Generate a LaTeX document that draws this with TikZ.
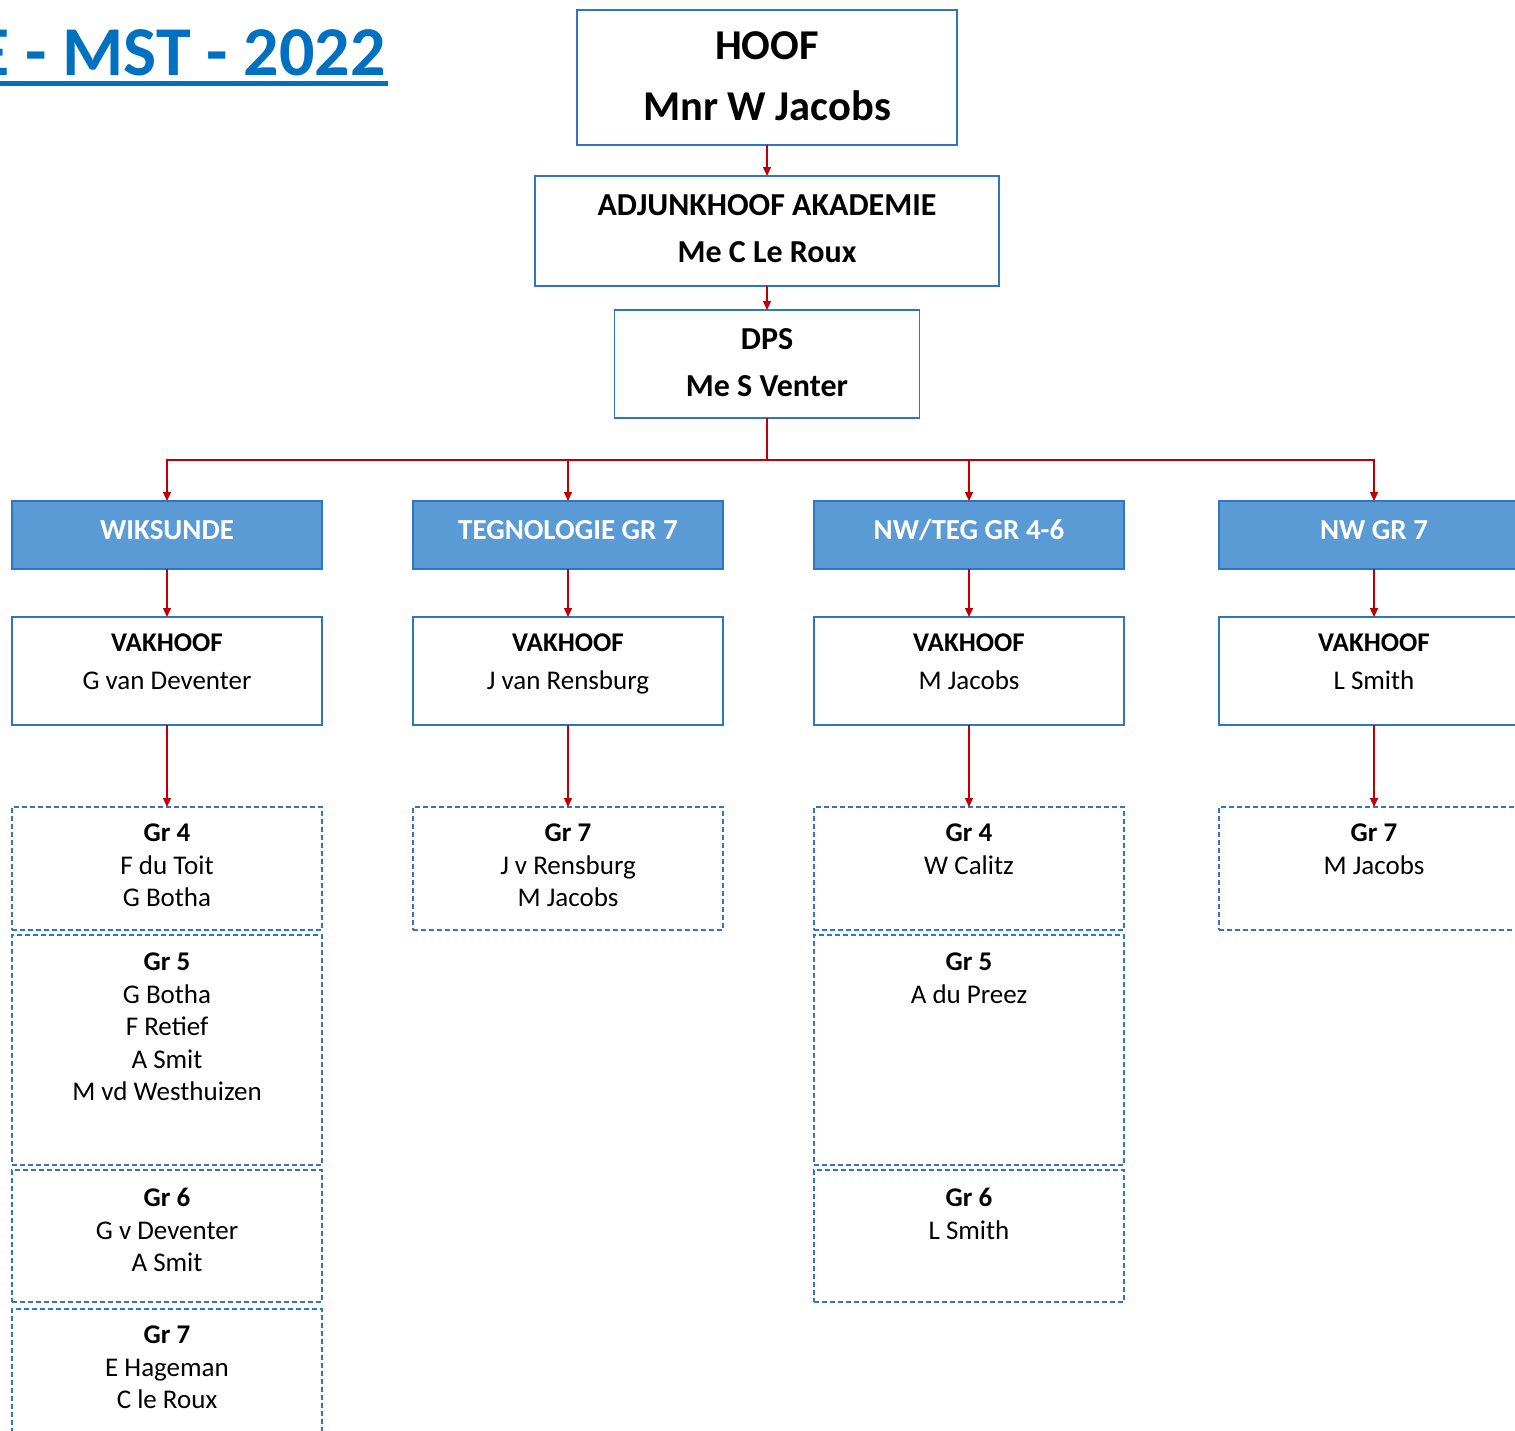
\documentclass[tikz,border=0pt]{standalone}
\usepackage{fontspec}
\setmainfont{Carlito}
\usetikzlibrary{arrows.meta}
\definecolor{bord}{RGB}{46,117,198}
\definecolor{fillb}{RGB}{91,155,213}
\definecolor{titleb}{RGB}{0,112,192}
\definecolor{connred}{RGB}{192,0,0}
\tikzset{
  solidbox/.style={draw=bord, line width=1.4pt, fill=white, inner sep=0pt, outer sep=0pt, rectangle},
  dashbox/.style={draw=bord, line width=1.3pt, dash pattern=on 5pt off 3pt, inner sep=0pt, outer sep=0pt, rectangle},
  headbox/.style={draw=bord, line width=1.4pt, fill=fillb, text=white, inner sep=0pt, outer sep=0pt, rectangle,
    font=\fontsize{29}{34}\selectfont\bfseries, text height=18.7pt, text depth=9pt,
    minimum width=310pt, minimum height=68pt},
  link/.style={draw=connred, line width=1.4pt, -{Triangle[length=9pt,width=8pt]}},
  bigtxt/.style={anchor=north, inner sep=0pt, align=center, font=\fontsize{42.5}{61}\selectfont\bfseries},
  midtxt/.style={anchor=north, inner sep=0pt, align=center, font=\fontsize{32}{47}\selectfont\bfseries},
  vaktxt/.style={anchor=north, inner sep=0pt, align=center, font=\fontsize{27}{38}\selectfont},
  grtxt/.style={anchor=north, inner sep=0pt, align=center, font=\fontsize{27}{32.5}\selectfont},
}
\begin{document}
\begin{tikzpicture}[x=1pt,y=-1pt]
\useasboundingbox (0,0) rectangle (1515,1430);

% title
\node[anchor=base east, inner sep=0pt, text=titleb, font=\fontsize{70}{84}\selectfont\bfseries] (title) at (386,75) {E - MST - 2022};
\draw[titleb, line width=4.5pt] (-20,83.5) -- (388,83.5);

% top hierarchy
\node[solidbox, minimum width=380pt, minimum height=135pt] (hoof) at (767,77.5) {};
\node[bigtxt] (hooft) at (767,17) {\strut HOOF\\Mnr W Jacobs};

\node[solidbox, minimum width=464pt, minimum height=110pt] (adj) at (767,231) {};
\node[midtxt] (adjt) at (767,182.4) {\strut ADJUNKHOOF AKADEMIE\\Me C Le Roux};

\node[solidbox, minimum width=305pt, minimum height=108pt] (dps) at (767,364) {};
\node[midtxt] (dpst) at (767,316.4) {\strut DPS\\Me S Venter};

% heads
\node[headbox] (h1) at (167,535) {WIKSUNDE};
\node[headbox] (h2) at (568,535) {TEGNOLOGIE GR 7};
\node[headbox] (h3) at (969,535) {NW/TEG GR 4-6};
\node[headbox] (h4) at (1374,535) {NW GR 7};

% vakhoof
\foreach \n/\x/\nm in {1/167/G van Deventer, 2/568/J van Rensburg, 3/969/M Jacobs, 4/1374/L Smith}{
  \node[solidbox, minimum width=310pt, minimum height=108pt] (v\n) at (\x,671) {};
  \node[vaktxt] (vt\n) at (\x,625.1) {\strut\textbf{VAKHOOF}\\\nm};
}

% grade boxes column 1
\node[dashbox, minimum width=310pt, minimum height=123pt] (g1a) at (167,868.5) {};
\node[grtxt] (g1at) at (167,818.95) {\strut\textbf{Gr 4}\\F du Toit\\G Botha};
\node[dashbox, minimum width=310pt, minimum height=230pt] (g1b) at (167,1050) {};
\node[grtxt] (g1bt) at (167,947.95) {\strut\textbf{Gr 5}\\G Botha\\F Retief\\A Smit\\M vd Westhuizen};
\node[dashbox, minimum width=310pt, minimum height=132pt] (g1c) at (167,1236) {};
\node[grtxt] (g1ct) at (167,1183.95) {\strut\textbf{Gr 6}\\G v Deventer\\A Smit};
\node[dashbox, minimum width=310pt, minimum height=141pt] (g1d) at (167,1379.5) {};
\node[grtxt] (g1dt) at (167,1320.95) {\strut\textbf{Gr 7}\\E Hageman\\C le Roux};

% column 2
\node[dashbox, minimum width=310pt, minimum height=123pt] (g2a) at (568,868.5) {};
\node[grtxt] (g2at) at (568,818.95) {\strut\textbf{Gr 7}\\J v Rensburg\\M Jacobs};

% column 3
\node[dashbox, minimum width=310pt, minimum height=123pt] (g3a) at (969,868.5) {};
\node[grtxt] (g3at) at (969,818.95) {\strut\textbf{Gr 4}\\W Calitz};
\node[dashbox, minimum width=310pt, minimum height=230pt] (g3b) at (969,1050) {};
\node[grtxt] (g3bt) at (969,947.95) {\strut\textbf{Gr 5}\\A du Preez};
\node[dashbox, minimum width=310pt, minimum height=132pt] (g3c) at (969,1236) {};
\node[grtxt] (g3ct) at (969,1183.95) {\strut\textbf{Gr 6}\\L Smith};

% column 4
\node[dashbox, minimum width=310pt, minimum height=123pt] (g4a) at (1374,868.5) {};
\node[grtxt] (g4at) at (1374,818.95) {\strut\textbf{Gr 7}\\M Jacobs};

% connectors
\draw[link] (hoof.south) -- (adj.north);
\draw[link] (adj.south) -- (dps.north);
\coordinate (busc) at (767,460);
\draw[draw=connred, line width=1.4pt] (dps.south) -- (busc);
\foreach \n in {1,2,3,4}{
  \draw[link] (busc) -| (h\n.north);
  \draw[link] (h\n.south) -- (v\n.north);
}
\draw[link] (v1.south) -- (g1a.north);
\draw[link] (v2.south) -- (g2a.north);
\draw[link] (v3.south) -- (g3a.north);
\draw[link] (v4.south) -- (g4a.north);
\end{tikzpicture}
\end{document}
